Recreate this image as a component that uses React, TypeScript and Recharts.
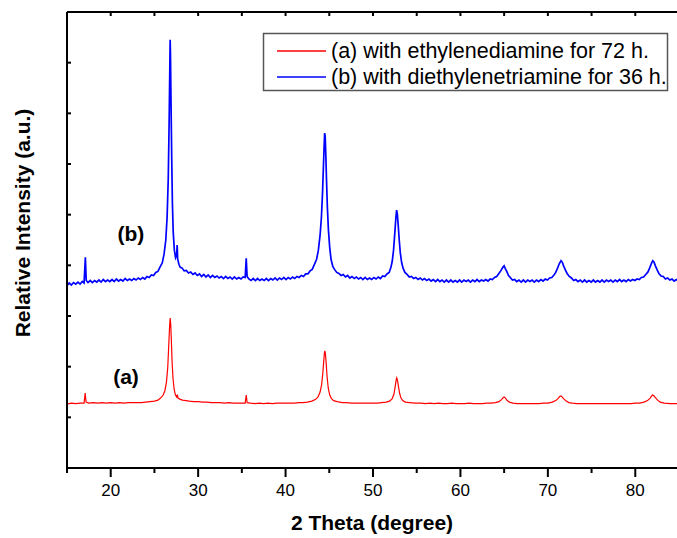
import React from 'react';
import { LineChart, Line, XAxis, YAxis, ReferenceDot, Label } from 'recharts';

// 2θ (degree) vs relative intensity (a.u., axis spans 0..9)
const seriesNames = ['(a) with ethylenediamine for 72 h.', '(b) with diethylenetriamine for 36 h.'];
const seriesColors = ['#ff0000', '#0000ff'];
const xTicks = [15, 20, 25, 30, 35, 40, 45, 50, 55, 60, 65, 70, 75, 80, 85];
const xLabelTicks = [20, 30, 40, 50, 60, 70, 80];
const yTicks = [0, 1, 2, 3, 4, 5, 6, 7, 8, 9];
const curveLabels = [
  { text: '(a)', x: 21.75, y: 1.81 },
  { text: '(b)', x: 22.3, y: 4.62 },
];

const seriesA: [number, number][] = [
  [15.0, 1.26], [15.5, 1.28], [16.0, 1.27], [16.5, 1.28], [16.95, 1.28], [17.08, 1.48], [17.18, 1.3],
  [17.5, 1.28], [18.0, 1.29], [18.5, 1.28], [19.0, 1.29], [19.5, 1.28], [20.0, 1.29], [20.5, 1.28],
  [21.0, 1.29], [21.5, 1.28], [22.0, 1.29], [22.5, 1.29], [23.0, 1.29], [23.5, 1.29], [24.0, 1.3],
  [24.5, 1.31], [25.0, 1.32], [25.4, 1.34], [25.7, 1.38], [26.0, 1.44], [26.2, 1.53], [26.38, 1.7],
  [26.52, 1.98], [26.62, 2.35], [26.72, 2.75], [26.8, 2.96], [26.86, 2.85], [26.94, 2.5], [27.02, 2.1],
  [27.12, 1.78], [27.25, 1.56], [27.4, 1.44], [27.55, 1.4], [27.62, 1.45], [27.7, 1.38], [27.9, 1.36],
  [28.2, 1.34], [28.6, 1.33], [29.0, 1.32], [29.5, 1.31], [30.0, 1.31], [30.5, 1.3], [31.0, 1.3],
  [31.5, 1.29], [32.0, 1.29], [32.5, 1.29], [33.0, 1.28], [33.5, 1.29], [34.0, 1.28], [34.5, 1.28],
  [35.0, 1.28], [35.38, 1.28], [35.5, 1.44], [35.6, 1.29], [36.0, 1.28], [36.5, 1.27], [37.0, 1.28],
  [37.5, 1.27], [38.0, 1.28], [38.5, 1.27], [39.0, 1.28], [39.5, 1.28], [40.0, 1.28], [40.5, 1.28],
  [41.0, 1.28], [41.5, 1.29], [42.0, 1.29], [42.5, 1.3], [43.0, 1.32], [43.4, 1.35], [43.7, 1.4],
  [43.95, 1.5], [44.12, 1.64], [44.25, 1.85], [44.36, 2.1], [44.45, 2.28], [44.5, 2.31], [44.56, 2.25],
  [44.65, 2.05], [44.75, 1.8], [44.88, 1.58], [45.05, 1.44], [45.25, 1.37], [45.5, 1.33], [45.9, 1.31],
  [46.5, 1.29], [47.0, 1.29], [47.5, 1.28], [48.0, 1.28], [48.5, 1.28], [49.0, 1.28], [49.5, 1.28],
  [50.0, 1.28], [50.5, 1.28], [51.0, 1.29], [51.5, 1.3], [51.9, 1.32], [52.2, 1.37], [52.4, 1.46],
  [52.55, 1.62], [52.65, 1.74], [52.72, 1.78], [52.8, 1.73], [52.92, 1.6], [53.05, 1.47], [53.2, 1.38],
  [53.4, 1.33], [53.7, 1.3], [54.2, 1.29], [54.8, 1.28], [55.5, 1.28], [56.0, 1.27], [56.5, 1.28],
  [57.0, 1.27], [57.5, 1.28], [58.0, 1.27], [58.5, 1.27], [59.0, 1.28], [59.5, 1.27], [60.0, 1.27],
  [60.5, 1.27], [61.0, 1.28], [61.5, 1.27], [62.0, 1.27], [62.5, 1.27], [63.0, 1.28], [63.5, 1.28],
  [64.0, 1.29], [64.4, 1.31], [64.7, 1.35], [64.9, 1.39], [65.0, 1.4], [65.15, 1.38], [65.35, 1.33],
  [65.6, 1.3], [66.0, 1.28], [66.5, 1.27], [67.0, 1.27], [67.5, 1.27], [68.0, 1.27], [68.5, 1.27],
  [69.0, 1.27], [69.5, 1.28], [70.0, 1.28], [70.5, 1.3], [70.9, 1.33], [71.15, 1.37], [71.35, 1.41],
  [71.5, 1.42], [71.65, 1.4], [71.85, 1.36], [72.1, 1.32], [72.4, 1.29], [72.8, 1.28], [73.3, 1.27],
  [74.0, 1.27], [74.5, 1.27], [75.0, 1.27], [75.5, 1.27], [76.0, 1.27], [76.5, 1.27], [77.0, 1.27],
  [77.5, 1.27], [78.0, 1.27], [78.5, 1.27], [79.0, 1.27], [79.5, 1.27], [80.0, 1.28], [80.5, 1.28],
  [81.0, 1.3], [81.4, 1.33], [81.7, 1.38], [81.95, 1.44], [82.1, 1.43], [82.3, 1.39], [82.55, 1.34],
  [82.85, 1.3], [83.3, 1.28], [84.0, 1.27], [84.5, 1.27], [85.0, 1.27],
];

const seriesB: [number, number][] = [
  [15.0, 3.6], [15.25, 3.65], [15.5, 3.61], [15.75, 3.66], [16.0, 3.63], [16.25, 3.67], [16.5, 3.63],
  [16.75, 3.68], [16.95, 3.65], [17.1, 4.16], [17.2, 3.7], [17.4, 3.66], [17.65, 3.7], [17.9, 3.66],
  [18.15, 3.7], [18.4, 3.67], [18.65, 3.71], [18.9, 3.67], [19.15, 3.72], [19.4, 3.68], [19.65, 3.71],
  [19.9, 3.68], [20.15, 3.72], [20.4, 3.68], [20.65, 3.73], [20.9, 3.69], [21.15, 3.72], [21.4, 3.69],
  [21.65, 3.74], [21.9, 3.7], [22.15, 3.73], [22.4, 3.7], [22.65, 3.74], [22.9, 3.71], [23.15, 3.75],
  [23.4, 3.72], [23.65, 3.76], [23.9, 3.73], [24.15, 3.78], [24.4, 3.76], [24.65, 3.81], [24.9, 3.8],
  [25.15, 3.86], [25.4, 3.88], [25.65, 3.97], [25.9, 4.05], [26.1, 4.22], [26.3, 4.5], [26.45, 4.95],
  [26.58, 5.7], [26.68, 6.8], [26.76, 7.9], [26.8, 8.45], [26.84, 8.1], [26.9, 7.2], [26.98, 6.1],
  [27.06, 5.2], [27.15, 4.65], [27.28, 4.3], [27.42, 4.15], [27.54, 4.2], [27.6, 4.4], [27.66, 4.12],
  [27.8, 4.02], [27.95, 3.96], [28.15, 3.95], [28.4, 3.89], [28.65, 3.9], [28.9, 3.85], [29.15, 3.87],
  [29.4, 3.82], [29.65, 3.85], [29.9, 3.8], [30.15, 3.83], [30.4, 3.78], [30.65, 3.82], [30.9, 3.77],
  [31.15, 3.81], [31.4, 3.76], [31.65, 3.8], [31.9, 3.76], [32.15, 3.79], [32.4, 3.75], [32.65, 3.78],
  [32.9, 3.74], [33.15, 3.78], [33.4, 3.74], [33.65, 3.77], [33.9, 3.73], [34.15, 3.77], [34.4, 3.73],
  [34.65, 3.76], [34.9, 3.73], [35.15, 3.77], [35.38, 3.76], [35.5, 4.14], [35.6, 3.78], [35.8, 3.73],
  [36.05, 3.7], [36.3, 3.74], [36.55, 3.7], [36.8, 3.74], [37.05, 3.7], [37.3, 3.73], [37.55, 3.7],
  [37.8, 3.74], [38.05, 3.7], [38.3, 3.74], [38.55, 3.71], [38.8, 3.75], [39.05, 3.71], [39.3, 3.75],
  [39.55, 3.72], [39.8, 3.76], [40.05, 3.72], [40.3, 3.76], [40.55, 3.73], [40.8, 3.77], [41.05, 3.74],
  [41.3, 3.78], [41.55, 3.76], [41.8, 3.8], [42.05, 3.78], [42.3, 3.83], [42.55, 3.83], [42.8, 3.89],
  [43.05, 3.92], [43.3, 4.02], [43.55, 4.12], [43.75, 4.3], [43.95, 4.6], [44.1, 4.95], [44.22, 5.4],
  [44.32, 5.9], [44.4, 6.3], [44.47, 6.61], [44.53, 6.55], [44.6, 6.2], [44.68, 5.7], [44.78, 5.15],
  [44.9, 4.7], [45.05, 4.35], [45.2, 4.12], [45.4, 3.98], [45.6, 3.92], [45.85, 3.86], [46.1, 3.84],
  [46.35, 3.8], [46.6, 3.82], [46.85, 3.77], [47.1, 3.8], [47.35, 3.75], [47.6, 3.78], [47.85, 3.74],
  [48.1, 3.77], [48.35, 3.73], [48.6, 3.76], [48.85, 3.72], [49.1, 3.76], [49.35, 3.72], [49.6, 3.75],
  [49.85, 3.72], [50.1, 3.76], [50.35, 3.73], [50.6, 3.77], [50.85, 3.74], [51.1, 3.79], [51.35, 3.78],
  [51.6, 3.83], [51.85, 3.86], [52.05, 3.96], [52.2, 4.08], [52.35, 4.3], [52.48, 4.6], [52.6, 4.9],
  [52.7, 5.09], [52.78, 5.02], [52.88, 4.8], [53.0, 4.5], [53.12, 4.25], [53.28, 4.05], [53.45, 3.94],
  [53.65, 3.86], [53.9, 3.82], [54.15, 3.77], [54.4, 3.78], [54.65, 3.74], [54.9, 3.76], [55.15, 3.72],
  [55.4, 3.75], [55.65, 3.71], [55.9, 3.74], [56.15, 3.7], [56.4, 3.73], [56.65, 3.69], [56.9, 3.72],
  [57.15, 3.68], [57.4, 3.72], [57.65, 3.68], [57.9, 3.71], [58.15, 3.67], [58.4, 3.71], [58.65, 3.67],
  [58.9, 3.71], [59.15, 3.67], [59.4, 3.7], [59.65, 3.67], [59.9, 3.71], [60.15, 3.67], [60.4, 3.71],
  [60.65, 3.68], [60.9, 3.71], [61.15, 3.67], [61.4, 3.71], [61.65, 3.68], [61.9, 3.72], [62.15, 3.68],
  [62.4, 3.71], [62.65, 3.69], [62.9, 3.72], [63.15, 3.69], [63.4, 3.73], [63.65, 3.72], [63.9, 3.76],
  [64.15, 3.78], [64.4, 3.84], [64.65, 3.9], [64.85, 3.96], [65.0, 3.99], [65.12, 3.94], [65.3, 3.88],
  [65.5, 3.8], [65.7, 3.76], [65.95, 3.71], [66.2, 3.72], [66.45, 3.68], [66.7, 3.71], [66.95, 3.67],
  [67.2, 3.71], [67.45, 3.67], [67.7, 3.71], [67.95, 3.68], [68.2, 3.71], [68.45, 3.67], [68.7, 3.71],
  [68.95, 3.68], [69.2, 3.72], [69.45, 3.69], [69.7, 3.73], [69.95, 3.71], [70.2, 3.75], [70.45, 3.76],
  [70.7, 3.81], [70.9, 3.86], [71.1, 3.94], [71.3, 4.03], [71.5, 4.09], [71.65, 4.06], [71.8, 3.99],
  [72.0, 3.91], [72.2, 3.84], [72.45, 3.78], [72.7, 3.75], [72.95, 3.7], [73.2, 3.72], [73.45, 3.68],
  [73.7, 3.71], [73.95, 3.67], [74.2, 3.71], [74.45, 3.67], [74.7, 3.7], [74.95, 3.67], [75.2, 3.71],
  [75.45, 3.67], [75.7, 3.7], [75.95, 3.67], [76.2, 3.71], [76.45, 3.67], [76.7, 3.71], [76.95, 3.68],
  [77.2, 3.71], [77.45, 3.67], [77.7, 3.71], [77.95, 3.68], [78.2, 3.72], [78.45, 3.68], [78.7, 3.71],
  [78.95, 3.68], [79.2, 3.72], [79.45, 3.69], [79.7, 3.72], [79.95, 3.7], [80.2, 3.73], [80.45, 3.72],
  [80.7, 3.76], [80.95, 3.77], [81.2, 3.82], [81.45, 3.87], [81.65, 3.95], [81.85, 4.04], [82.0, 4.09],
  [82.15, 4.06], [82.3, 3.99], [82.5, 3.91], [82.7, 3.84], [82.95, 3.79], [83.2, 3.78], [83.45, 3.73],
  [83.7, 3.75], [83.95, 3.71], [84.2, 3.73], [84.45, 3.69], [84.7, 3.72], [85.0, 3.69],
];

const dataA = seriesA.map(([x, y]) => ({ x, y }));
const dataB = seriesB.map(([x, y]) => ({ x, y }));

const FONT = '"Liberation Sans", Arial, sans-serif';

const BottomTick = (props: any) => {
  const { x, y, payload } = props;
  const v = payload.value;
  const major = xLabelTicks.includes(v);
  return (
    <g>
      <line x1={x} x2={x} y1={y - 1} y2={y - 1 + (major ? 10 : 6)} stroke="#000" strokeWidth={2} />
      {major && (
        <text x={x} y={y + 22} textAnchor="middle" dominantBaseline="central" fontFamily={FONT} fontSize={17} fill="#000">
          {v}
        </text>
      )}
    </g>
  );
};

const TopTick = (props: any) => {
  const { x, y } = props;
  return <line x1={x} x2={x} y1={y} y2={y + 4} stroke="#000" strokeWidth={2} />;
};

const LeftTick = (props: any) => {
  const { x, y } = props;
  return <line x1={x} x2={x + 4} y1={y} y2={y} stroke="#000" strokeWidth={2} />;
};

export default function App() {
  return (
    <div style={{ position: 'absolute', left: 0, top: 0, width: 677, height: 538, background: '#fff', overflow: 'hidden' }}>
      <LineChart width={677} height={538} margin={{ top: 11, right: -2, bottom: 69, left: 66 }}>
        <XAxis
          xAxisId="b"
          type="number"
          dataKey="x"
          domain={[15, 85]}
          ticks={xTicks}
          allowDataOverflow
          height={1}
          tickSize={0}
          tickMargin={0}
          tickLine={false}
          tick={<BottomTick />}
          axisLine={{ stroke: '#000', strokeWidth: 2 }}
          interval={0}
        >
          <Label
            content={() => (
              <text x={372} y={522} textAnchor="middle" dominantBaseline="central" fontFamily={FONT} fontWeight="bold" fontSize={21} fill="#000">
                2 Theta (degree)
              </text>
            )}
          />
        </XAxis>
        <XAxis
          xAxisId="t"
          orientation="top"
          type="number"
          dataKey="x"
          domain={[15, 85]}
          ticks={xTicks}
          allowDataOverflow
          height={1}
          tickSize={0}
          tickMargin={0}
          tickLine={false}
          tick={<TopTick />}
          axisLine={{ stroke: '#000', strokeWidth: 2 }}
          interval={0}
        />
        <YAxis
          yAxisId="l"
          type="number"
          domain={[0, 9]}
          ticks={yTicks}
          allowDataOverflow
          width={1}
          tickSize={0}
          tickMargin={0}
          tickLine={false}
          tick={<LeftTick />}
          axisLine={{ stroke: '#000', strokeWidth: 2 }}
          interval={0}
        >
          <Label
            content={() => (
              <text x={22} y={223} transform="rotate(-90 22 223)" textAnchor="middle" dominantBaseline="central" fontFamily={FONT} fontWeight="bold" fontSize={21} fill="#000">
                Relative Intensity (a.u.)
              </text>
            )}
          />
        </YAxis>
        <Line xAxisId="b" yAxisId="l" data={dataA} dataKey="y" type="linear" stroke={seriesColors[0]} strokeWidth={1.2} dot={false} isAnimationActive={false} name={seriesNames[0]} />
        <Line xAxisId="b" yAxisId="l" data={dataB} dataKey="y" type="linear" stroke={seriesColors[1]} strokeWidth={1.7} dot={false} isAnimationActive={false} name={seriesNames[1]} />
        {curveLabels.map((c) => (
          <ReferenceDot
            key={c.text}
            xAxisId="b"
            yAxisId="l"
            x={c.x}
            y={c.y}
            r={0}
            fill="none"
            stroke="none"
            label={(p: any) => {
              const vb = p.viewBox || {};
              const cx = (vb.x ?? 0) + (vb.width ?? 0) / 2;
              const cy = (vb.y ?? 0) + (vb.height ?? 0) / 2;
              return (
                <text x={cx} y={cy} textAnchor="middle" dominantBaseline="central" fontFamily={FONT} fontWeight="bold" fontSize={21} fill="#000">
                  {c.text}
                </text>
              );
            }}
          />
        ))}
      </LineChart>
      <svg width={677} height={538} style={{ position: 'absolute', left: 0, top: 0, pointerEvents: 'none' }}>
        <rect x={263.5} y={33.5} width={404} height={57} fill="#fff" stroke="#555" strokeWidth={1.5} />
        {seriesNames.map((n, i) => (
          <g key={n}>
            <line x1={277} x2={326} y1={51 + i * 26} y2={51 + i * 26} stroke={seriesColors[i]} strokeWidth={1.5} />
            <text x={331} y={51 + i * 26} dominantBaseline="central" fontFamily={FONT} fontSize={21.5} fill="#000">
              {n}
            </text>
          </g>
        ))}
      </svg>
    </div>
  );
}
